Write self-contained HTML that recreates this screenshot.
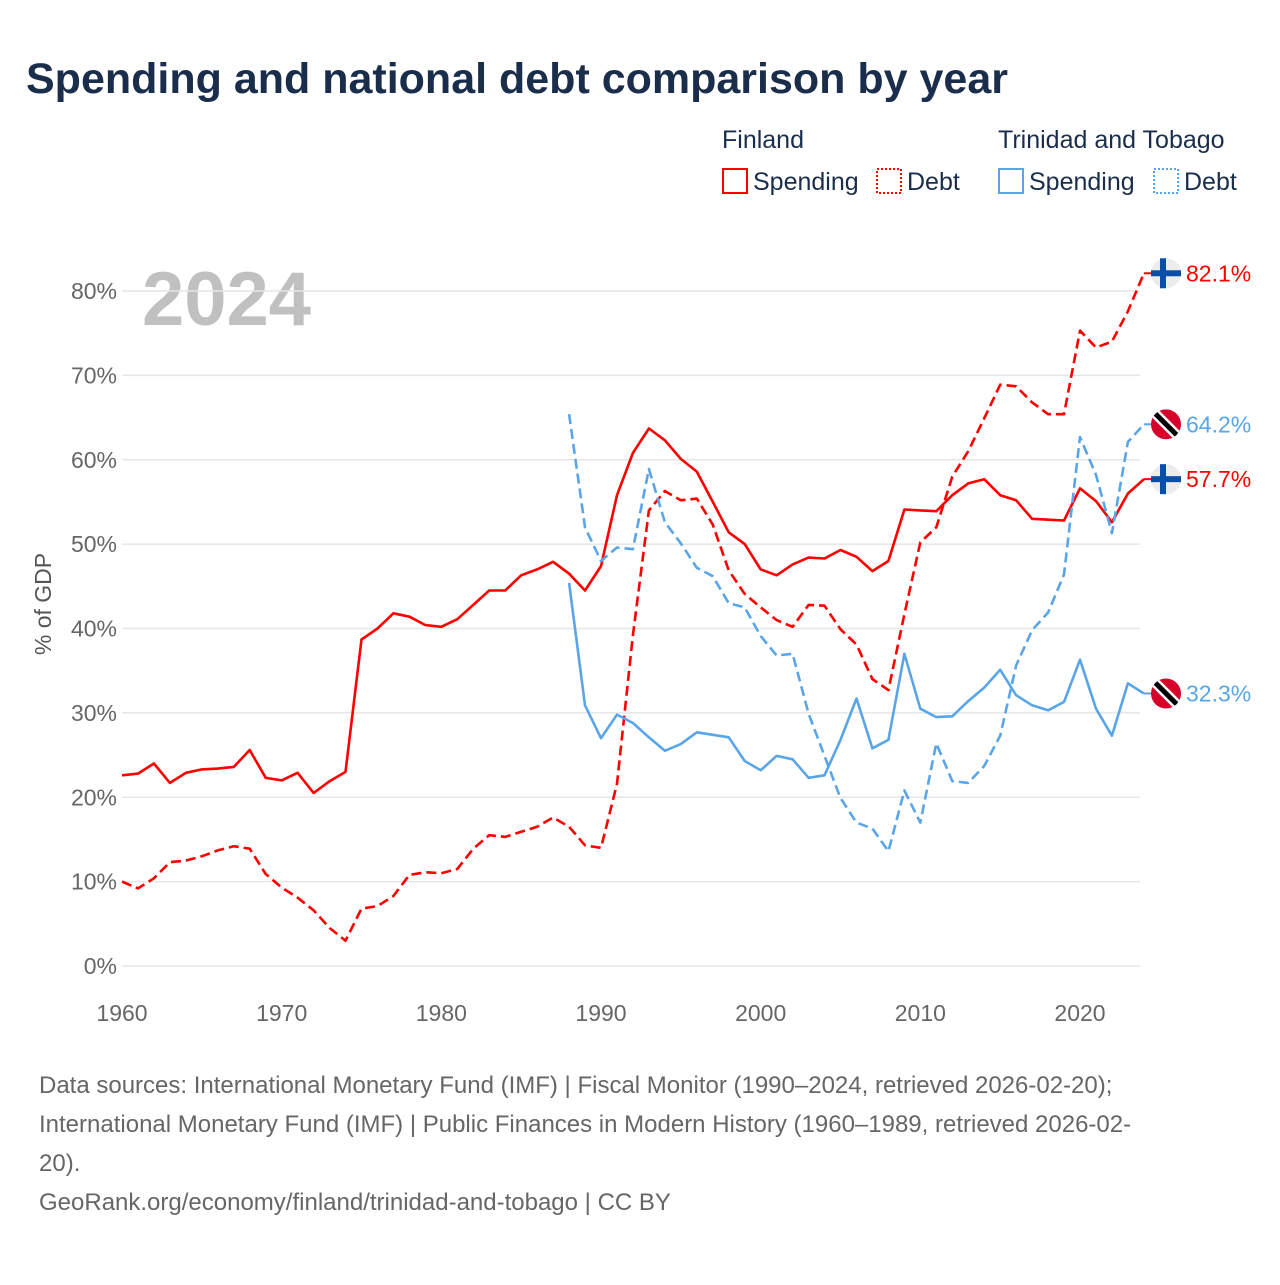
<!DOCTYPE html>
<html><head><meta charset="utf-8"><style>
body{margin:0;background:#fff;font-family:"Liberation Sans",sans-serif;}
svg text{font-family:"Liberation Sans",sans-serif;}
</style></head><body>
<svg id="c" width="1280" height="1280" xmlns="http://www.w3.org/2000/svg">
<text x="26" y="93" font-size="43" font-weight="bold" fill="#1a2e4c">Spending and national debt comparison by year</text>
<g font-size="25" fill="#1a2e4c">
<text x="722" y="148">Finland</text>
<text x="998" y="148">Trinidad and Tobago</text>
<g><rect x="723" y="169" width="24" height="24" fill="none" stroke="#f00" stroke-width="2"/><text x="753" y="190">Spending</text></g>
<g><rect x="877" y="169" width="24" height="24" fill="none" stroke="#f00" stroke-width="2" stroke-dasharray="2 2"/><text x="907" y="190">Debt</text></g>
<g><rect x="999" y="169" width="24" height="24" fill="none" stroke="#5aa5e8" stroke-width="2"/><text x="1029" y="190">Spending</text></g>
<g><rect x="1154" y="169" width="24" height="24" fill="none" stroke="#5aa5e8" stroke-width="2" stroke-dasharray="2 2"/><text x="1184" y="190">Debt</text></g>
</g>
<text x="142" y="325" font-size="76" font-weight="bold" fill="#c0c0c0">2024</text>
<text transform="translate(51,604) rotate(-90)" text-anchor="middle" font-size="23" fill="#555">% of GDP</text>
<g id="grid"></g><g id="lines"></g><g id="ends"></g>
<g font-size="24" fill="#666">
<text x="39" y="1093">Data sources: International Monetary Fund (IMF) | Fiscal Monitor (1990–2024, retrieved 2026-02-20);</text>
<text x="39" y="1132">International Monetary Fund (IMF) | Public Finances in Modern History (1960–1989, retrieved 2026-02-</text>
<text x="39" y="1171">20).</text>
<text x="39" y="1210">GeoRank.org/economy/finland/trinidad-and-tobago | CC BY</text>
</g>
</svg>
<script>
const yTicks=[0,10,20,30,40,50,60,70,80];
const xTicks=[1960,1970,1980,1990,2000,2010,2020];
const finSpending=[22.6,22.8,24.0,21.7,22.9,23.3,23.4,23.6,25.6,22.3,22.0,22.9,20.5,21.9,23.0,38.7,40.0,41.8,41.4,40.4,40.2,41.1,42.8,44.5,44.5,46.3,47.0,47.9,46.5,44.5,47.4,55.8,60.8,63.7,62.3,60.1,58.6,55.0,51.4,50.0,47.0,46.3,47.6,48.4,48.3,49.3,48.5,46.8,48.0,54.1,54.0,53.9,55.8,57.2,57.7,55.8,55.2,53.0,52.9,52.8,56.6,55.1,52.6,56.0,57.7];
const finDebt=[10.0,9.2,10.4,12.3,12.5,13.0,13.7,14.2,13.9,10.9,9.3,8.1,6.6,4.5,3.0,6.8,7.1,8.3,10.8,11.1,11.0,11.5,13.9,15.5,15.3,15.9,16.5,17.6,16.5,14.3,14.0,21.6,39.2,54.0,56.3,55.2,55.4,52.3,46.9,44.1,42.5,41.0,40.2,42.8,42.7,39.9,38.1,34.0,32.7,41.7,50.2,52.0,58.0,61.0,64.9,68.9,68.7,66.8,65.4,65.4,75.3,73.3,74.0,77.6,82.1];
const ttSpending=[45.4,30.9,27.0,29.8,28.8,27.1,25.5,26.3,27.7,27.4,27.1,24.3,23.2,24.9,24.5,22.3,22.6,26.8,31.7,25.8,26.8,37.0,30.5,29.5,29.6,31.4,33.0,35.1,32.1,30.9,30.3,31.3,36.3,30.5,27.3,33.5,32.3];
const ttDebt=[65.4,52.0,48.0,49.6,49.4,58.9,52.6,50.1,47.2,46.2,43.0,42.5,39.1,36.8,37.0,29.9,24.9,19.9,17.0,16.3,13.6,20.8,17.0,26.4,21.9,21.7,23.7,27.3,35.6,39.8,41.9,46.4,62.7,58.2,51.3,62.1,64.2];
const NS="http://www.w3.org/2000/svg";
const X=y=>122+(y-1960)*(958/60);
const Y=v=>966-v*(675/80);
function mk(t,a,p){const e=document.createElementNS(NS,t);for(const k in a)e.setAttribute(k,a[k]);p.appendChild(e);return e;}
const grid=document.getElementById('grid'),lines=document.getElementById('lines'),ends=document.getElementById('ends');
yTicks.forEach(v=>{
 const l=mk('line',{x1:122,x2:1140,y1:Y(v),y2:Y(v),stroke:'#e6e6e6','stroke-width':1.5},grid);
 
 
 const t=mk('text',{x:117,y:Y(v)+8,'text-anchor':'end','font-size':23,fill:'#666'},grid);t.textContent=v+'%';
 
 
});
xTicks.forEach(v=>{
 const t=mk('text',{x:X(v),y:1021,'text-anchor':'middle','font-size':23,fill:'#666'},grid);t.textContent=v;
 
 
});
function series(data,start,color,dash,name){
 const pts=data.map((v,i)=>X(start+i).toFixed(1)+','+Y(v).toFixed(1)).join(' ');
 const p=mk('polyline',{points:pts,fill:'none',stroke:color,'stroke-width':2.6,'stroke-linejoin':'round'},lines);
 if(dash)p.setAttribute('stroke-dasharray','10 5');
 
 
 const last=data[data.length-1],ly=Y(last),ex=X(start+data.length-1);
 mk('line',{x1:ex,x2:1152,y1:ly,y2:ly,stroke:color,'stroke-width':2},ends);
 return {ly,last,color,name};
}
function flag(kind,cy,name){
 const g=mk('g',{},ends);
 
 
 const cx=1166;
 if(kind==='fi'){
  mk('circle',{cx,cy,r:15,fill:'#ececec'},g);
  mk('rect',{x:cx-15,y:cy-3,width:30,height:6,fill:'#0a4ea8'},g);
  mk('rect',{x:cx-6,y:cy-15,width:6,height:30,fill:'#0a4ea8'},g);
 }else{
  const cp=mk('clipPath',{id:'cp'+Math.round(cy)},g);mk('circle',{cx,cy,r:15},cp);
  const h=mk('g',{'clip-path':'url(#cp'+Math.round(cy)+')'},g);
  mk('rect',{x:cx-15,y:cy-15,width:30,height:30,fill:'#d6002a'},h);
  mk('line',{x1:cx-15,y1:cy-15,x2:cx+15,y2:cy+15,stroke:'#fff',"stroke-width":10},h);
  mk('line',{x1:cx-15,y1:cy-15,x2:cx+15,y2:cy+15,stroke:'#000',"stroke-width":5},h);
 }
}
const s=[series(finSpending,1960,'#ff0000',false,'line-finland-spending'),
 series(finDebt,1960,'#ff0000',true,'line-finland-debt'),
 series(ttSpending,1988,'#5aa5e8',false,'line-tt-spending'),
 series(ttDebt,1988,'#5aa5e8',true,'line-tt-debt')];
const kinds=['fi','fi','tt','tt'];
s.forEach((o,i)=>{
 flag(kinds[i],o.ly,'flag-'+o.name.slice(5));
 const t=mk('text',{x:1186,y:o.ly+8,'font-size':23,fill:o.color},ends);t.textContent=o.last.toFixed(1)+'%';
 
 
});
</script>
</body></html>
